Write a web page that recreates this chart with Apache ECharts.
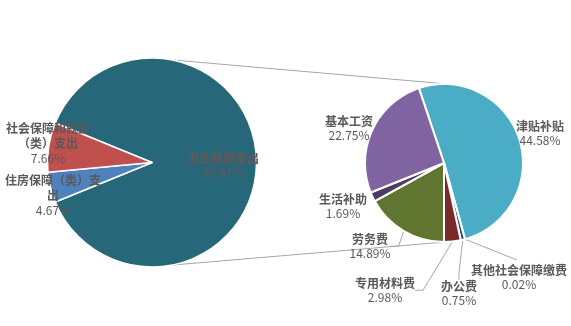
<!DOCTYPE html>
<html><head><meta charset="utf-8">
<script src="https://cdn.jsdelivr.net/npm/echarts@6/dist/echarts.min.js"></script>
<style>html,body{margin:0;padding:0;background:#fff}#c{width:571px;height:326px}</style>
</head><body><div id="c"></div>
<script>
// ---- data ----
const mainNames = ['卫生健康支出', '住房保障（类）支出', '社会保障和就业（类）支出'];
const mainValues = [87.67, 4.67, 7.66];
const subNames = ['津贴补贴', '其他社会保障缴费', '办公费', '专用材料费', '劳务费', '生活补助', '基本工资'];
const subValues = [44.58, 0.02, 0.75, 2.98, 14.89, 1.69, 22.75];

// ---- style / layout ----
const mainColors = ['#26687A', '#4F81BD', '#C0504D'];
const subColors = ['#4BACC6', '#9BBB59', '#1F497D', '#772C2A', '#60752F', '#4E3B62', '#8064A2'];
const MAIN_C = [152, 162.5], MAIN_R = 104.5;
const SUB_C = [444, 163], SUB_R = 79;
const SUB_START = 108.5;
const mainLabelPos = [[223, 165], [53, 195], [48, 143]];
const mainWrap = [0, 8, 7];
const subLabelPos = [[540, 133], [519, 277], [459, 293], [385, 290], [370, 246], [343, 206], [349, 128]];
const subHasLine = [false, false, true, true, true, false, false];
const FONT = '"Noto Sans CJK SC", "Noto Sans", sans-serif';

function wrapName(name, n) {
  if (!n) return name;
  const out = [];
  for (let i = 0; i < name.length; i += n) out.push(name.slice(i, i + n));
  return out.join('\n');
}
function rich(color) {
  return {
    n: { fontFamily: FONT, fontSize: 12, fontWeight: 'bold', color: color, lineHeight: 15, align: 'center' },
    v: { fontFamily: FONT, fontSize: 12, color: color, lineHeight: 14, align: 'center' }
  };
}

const mainTotal = mainValues.reduce((a, b) => a + b, 0);
const mainStart = 180 * mainValues[0] / mainTotal;
const subTotal = subValues.reduce((a, b) => a + b, 0);

const mainData = mainNames.map((n, i) => ({
  name: n, value: mainValues[i],
  itemStyle: { color: mainColors[i] },
  label: { rich: rich(i === 0 ? '#6A5555' : '#595959') }
}));
const subData = subNames.map((n, i) => ({
  name: n, value: subValues[i],
  itemStyle: { color: subColors[i] },
  labelLine: { show: subHasLine[i] }
}));

// mid angle (math degrees) of a sub slice, from the data
function subMidAngle(idx) {
  let acc = 0;
  for (let i = 0; i < idx; i++) acc += subValues[i];
  acc += subValues[idx] / 2;
  return SUB_START - acc / subTotal * 360;
}

const chart = echarts.init(document.getElementById('c'), null, { renderer: 'canvas' });

function conn(aDeg, bDeg, sign) {
  const a = aDeg * Math.PI / 180, b = bDeg * Math.PI / 180;
  return {
    type: 'line', silent: true, z: 0,
    shape: {
      x1: MAIN_C[0] + MAIN_R * Math.cos(a), y1: MAIN_C[1] - sign * MAIN_R * Math.sin(a),
      x2: SUB_C[0] + SUB_R * Math.cos(b), y2: SUB_C[1] - sign * SUB_R * Math.sin(b)
    },
    style: { stroke: '#A6A6A6', lineWidth: 1 }
  };
}
// leader for the tiny slice (index 1) to the top of its label
const otherMid = subMidAngle(1) * Math.PI / 180;
const otherLine = {
  type: 'line', silent: true, z: 0,
  shape: {
    x1: SUB_C[0] + SUB_R * Math.cos(otherMid), y1: SUB_C[1] - SUB_R * Math.sin(otherMid),
    x2: subLabelPos[1][0] - 2, y2: subLabelPos[1][1] - 17
  },
  style: { stroke: '#A6A6A6', lineWidth: 1 }
};

chart.setOption({
  animation: false,
  backgroundColor: '#fff',
  graphic: [conn(79, 85, 1), conn(79, 89, -1), otherLine],
  series: [
    {
      type: 'pie', center: MAIN_C, radius: [0, MAIN_R],
      startAngle: mainStart, clockwise: true,
      itemStyle: { borderColor: '#fff', borderWidth: 1.5 },
      label: {
        show: true, position: 'outside', width: 140, overflow: 'none',
        formatter: p => '{n|' + wrapName(p.name, mainWrap[p.dataIndex]) + '}\n{v|' + p.value.toFixed(2) + '%}'
      },
      labelLine: { show: false },
      labelLayout: p => ({ x: mainLabelPos[p.dataIndex][0], y: mainLabelPos[p.dataIndex][1], align: 'center', verticalAlign: 'middle' }),
      emphasis: { disabled: true },
      data: mainData
    },
    {
      type: 'pie', center: SUB_C, radius: [0, SUB_R],
      startAngle: SUB_START, clockwise: true,
      itemStyle: { borderColor: '#fff', borderWidth: 2 },
      label: {
        show: true, position: 'outside', overflow: 'none',
        formatter: p => '{n|' + p.name + '}\n{v|' + p.value.toFixed(2) + '%}',
        rich: rich('#595959')
      },
      labelLine: { show: true, length: 8, length2: 8, lineStyle: { color: '#A6A6A6', width: 1 } },
      labelLayout: p => ({ x: subLabelPos[p.dataIndex][0], y: subLabelPos[p.dataIndex][1], align: 'center', verticalAlign: 'middle' }),
      emphasis: { disabled: true },
      data: subData
    }
  ]
});
</script>
</body></html>
